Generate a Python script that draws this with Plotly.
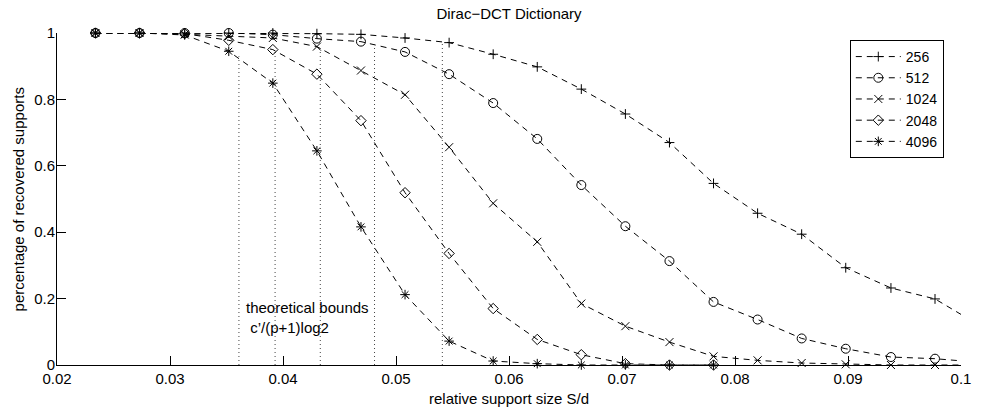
import plotly.graph_objects as go

# ---- data ----
x_vals = [0.0234, 0.0273, 0.0313, 0.0352, 0.0391, 0.0430, 0.0469, 0.0508, 0.0547,
          0.0586, 0.0625, 0.0664, 0.0703, 0.0742, 0.0781, 0.0820, 0.0859, 0.0898,
          0.0938, 0.0977, 0.1016]

y_256 = [1, 1, 1, 1, 1.0, 0.998, 0.996, 0.985, 0.971, 0.936, 0.898, 0.831, 0.756,
         0.670, 0.547, 0.457, 0.394, 0.293, 0.232, 0.199, 0.12]
y_512 = [1, 1, 1, 1, 0.995, 0.983, 0.974, 0.943, 0.876, 0.789, 0.681, 0.542, 0.418,
         0.313, 0.19, 0.137, 0.08, 0.049, 0.024, 0.019, 0.008]
y_1024 = [1, 1, 0.996, 0.99, 0.985, 0.959, 0.887, 0.814, 0.656, 0.487, 0.371, 0.185,
          0.117, 0.069, 0.026, 0.014, 0.006, 0.002, 0, 0, 0]
y_2048 = [1, 1, 0.998, 0.978, 0.95, 0.876, 0.736, 0.519, 0.336, 0.170, 0.077, 0.031,
          0.004, 0, 0]
y_4096 = [1, 1, 0.994, 0.945, 0.849, 0.645, 0.416, 0.212, 0.072, 0.012, 0.004, 0,
          0, 0, 0]

series_names = ["256", "512", "1024", "2048", "4096"]
series_values = [y_256, y_512, y_1024, y_2048, y_4096]

bound_x = [0.0361, 0.0393, 0.0433, 0.0481, 0.0541]
bound_top = [0.93, 0.945, 0.96, 0.965, 0.97]

x_ticks = [0.02, 0.03, 0.04, 0.05, 0.06, 0.07, 0.08, 0.09, 0.1]
x_tick_labels = ["0.02", "0.03", "0.04", "0.05", "0.06", "0.07", "0.08", "0.09", "0.1"]
y_ticks = [0, 0.2, 0.4, 0.6, 0.8, 1]
y_tick_labels = ["0", "0.2", "0.4", "0.6", "0.8", "1"]

X_MIN, X_MAX = 0.02, 0.1

# ---- styles ----
FONT = "Liberation Sans, Arial, Helvetica, sans-serif"
symbols = ["cross-thin-open", "circle-open", "x-thin-open", "diamond-open", "asterisk-open"]
sizes = [7, 9, 8, 8, 8]

W, H = 983, 410

fig = go.Figure()

for bx, bt in zip(bound_x, bound_top):
    fig.add_trace(go.Scatter(
        x=[bx, bx], y=[0, bt], mode="lines",
        line=dict(color="#444444", width=1, dash="1px,3px"),
        showlegend=False, hoverinfo="skip"))

for name, vals, sym, sz in zip(series_names, series_values, symbols, sizes):
    xs = x_vals[:len(vals)]
    opac = [1 if xv <= X_MAX else 0 for xv in xs]
    fig.add_trace(go.Scatter(
        x=xs, y=vals, mode="lines+markers", name=name,
        line=dict(color="black", width=1, dash="6px,5px"),
        marker=dict(symbol=sym, size=sz, color="black", opacity=opac,
                    line=dict(color="black", width=1)),
        cliponaxis=False))

fig.update_layout(
    width=W, height=H,
    margin=dict(l=57, r=13, t=33, b=45),
    paper_bgcolor="white", plot_bgcolor="white",
    font=dict(family=FONT, size=15, color="black"),
    title=dict(text="Dirac\u2212DCT Dictionary", x=0.5, xref="paper",
               y=1 - 13.5 / H, yref="container", yanchor="middle",
               font=dict(size=15, family=FONT, color="black")),
    showlegend=True,
    legend=dict(x=0.877, y=0.979, xanchor="left", yanchor="top",
                bgcolor="white", bordercolor="black", borderwidth=1,
                font=dict(size=14, family=FONT, color="black"),
                itemwidth=45, tracegroupgap=0),
)

fig.update_xaxes(range=[X_MIN, X_MAX], tickmode="array", tickvals=x_ticks,
                 ticktext=x_tick_labels, ticks="inside", ticklen=9, tickcolor="black",
                 showline=True, linecolor="black", linewidth=1, showgrid=False,
                 zeroline=False, tickfont=dict(size=15, family=FONT, color="black"))
fig.update_yaxes(range=[0, 1], tickmode="array", tickvals=y_ticks,
                 ticktext=y_tick_labels, ticks="inside", ticklen=9, tickcolor="black",
                 showline=True, linecolor="black", linewidth=1, showgrid=False,
                 zeroline=False, ticklabelstandoff=-2,
                 tickfont=dict(size=15, family=FONT, color="black"))

fig.add_annotation(text="relative support size S/d", xref="paper", yref="paper",
                   x=0.5, y=-0.0994, xanchor="center", yanchor="middle",
                   showarrow=False, font=dict(size=15, family=FONT, color="black"))
fig.add_annotation(text="percentage of recovered supports", xref="paper", yref="paper",
                   x=-0.0427, y=0.5, xanchor="center", yanchor="middle", textangle=-90,
                   showarrow=False, font=dict(size=15, family=FONT, color="black"))
fig.add_annotation(text="theoretical bounds<br> c\u2019/(p+1)log2", xref="x", yref="y",
                   x=0.03655, y=0.143, xanchor="left", yanchor="middle", align="left",
                   showarrow=False, font=dict(size=15, family=FONT, color="black"))

# remove the default page margin so the figure sits at the window's top-left corner
fig.write_html("out.html",
               config=dict(displayModeBar=False),
               post_script="document.body.style.margin='0';document.body.style.overflow='hidden';")
